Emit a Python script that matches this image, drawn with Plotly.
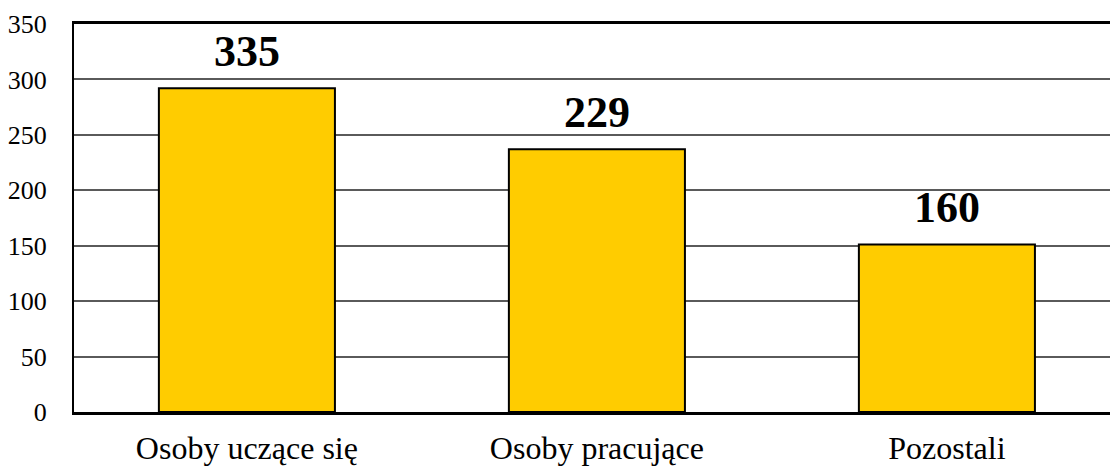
import plotly.graph_objects as go

categories = ["Osoby uczące się", "Osoby pracujące", "Pozostali"]
bar_heights = [292, 237, 151]
value_labels = ["335", "229", "160"]
y_ticks = [0, 50, 100, 150, 200, 250, 300, 350]

SERIF = "Liberation Serif, Times New Roman, serif"

fig = go.Figure()
fig.add_trace(go.Bar(
    x=categories,
    y=bar_heights,
    width=0.503,
    marker=dict(color="#FFCC00", line=dict(color="#000000", width=2)),
    hoverinfo="skip",
))

for c, h, t in zip(categories, bar_heights, value_labels):
    fig.add_annotation(
        x=c, y=h, text="<b>" + t + "</b>", showarrow=False,
        yanchor="middle", yshift=37,
        font=dict(family=SERIF, size=44, color="#000000"),
    )

fig.update_layout(
    width=1110, height=466,
    margin=dict(l=74, r=0, t=23.5, b=53.5),
    paper_bgcolor="white", plot_bgcolor="white",
    showlegend=False,
    font=dict(family=SERIF, color="#000000"),
    xaxis=dict(
        range=[-0.494, 2.466],
        showline=True, linecolor="#000000", linewidth=2.5, mirror=True,
        showgrid=False, ticks="",
        tickfont=dict(family=SERIF, size=32),
        ticklabelstandoff=6,
    ),
    yaxis=dict(
        range=[0, 350],
        tickvals=y_ticks,
        showline=True, linecolor="#000000", linewidth=2,
        showgrid=True, gridcolor="#5a5a5a", gridwidth=1.5,
        zeroline=False, ticks="",
        tickfont=dict(family=SERIF, size=26),
        ticklabelstandoff=20,
    ),
)

fig.write_html(
    "out.html",
    config={"displayModeBar": False},
    post_script="document.body.style.margin='0';document.body.style.padding='0';",
)
